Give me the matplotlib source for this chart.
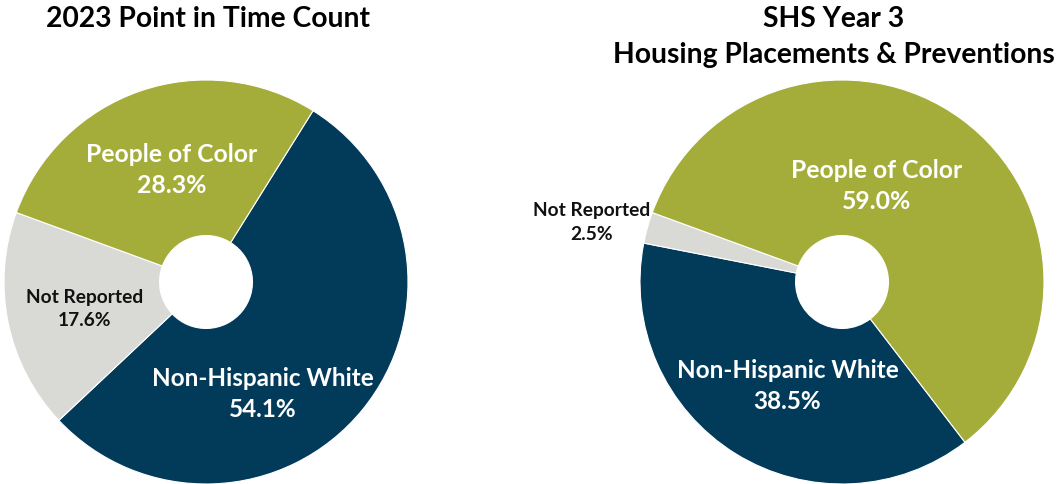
import matplotlib.pyplot as plt

# Dados
CATEGORIAS = ["Non-Hispanic White", "Not Reported", "People of Color"]
PIT_2023 = [54.1, 17.6, 28.3]
SHS_ANO3 = [38.5, 2.5, 59.0]

TITULO_PIT = "2023 Point in Time Count"
TITULO_SHS = "SHS Year 3\nHousing Placements & Preventions"

CORES = ["#023a5a", "#d9d9d5", "#a4ad3a"]
COR_TEXTO = ["white", "#111111", "white"]

plt.rcParams['font.family'] = ['Lato', 'DejaVu Sans']

W, H = 1057, 485
fig = plt.figure(figsize=(W / 100, H / 100), dpi=100)


def eixo_pizza(cx, cy, r):
    # cria eixo quadrado com o raio da pizza em pixels
    ax = fig.add_axes([(cx - r) / W, (H - cy - r) / H, 2 * r / W, 2 * r / H])
    ax.set_xlim(-1, 1)
    ax.set_ylim(-1, 1)
    ax.axis("off")
    return ax


def desenha(ax, valores, inicio, pos_rotulos, tamanhos):
    ax.pie(valores,
           colors=CORES,
           startangle=inicio,
           counterclock=False,
           radius=1.0,
           frame=False,
           wedgeprops=dict(width=0.77, edgecolor="white", linewidth=0.8))
    ax.set_xlim(-1, 1)
    ax.set_ylim(-1, 1)
    for i, cat in enumerate(CATEGORIAS):
        x, y = pos_rotulos[i]
        ax.text(x, y, f"{cat}\n{valores[i]:.1f}%",
                ha="center", va="center",
                fontsize=tamanhos[i], fontweight="bold",
                color=COR_TEXTO[i],
                linespacing=1.45, clip_on=False)


ax1 = eixo_pizza(206, 283, 202)
desenha(ax1, PIT_2023, 58,
        [(0.28, -0.55), (-0.60, -0.13), (-0.17, 0.56)],
        [17.5, 13.8, 17.8])

ax2 = eixo_pizza(842, 283, 202)
desenha(ax2, SHS_ANO3, -52.5,
        [(-0.27, -0.51), (-1.24, 0.30), (0.17, 0.48)],
        [17.5, 13.8, 17.8])

fig.text(208 / W, 1 - 19 / H, TITULO_PIT, ha="center", va="center",
         fontsize=20.3, fontweight="bold", color="black")
fig.text(834 / W, 1 - 37 / H, TITULO_SHS, ha="center", va="center",
         fontsize=20.3, fontweight="bold", color="black", linespacing=1.5)

plt.savefig("out.png", dpi=100)
plt.close()
